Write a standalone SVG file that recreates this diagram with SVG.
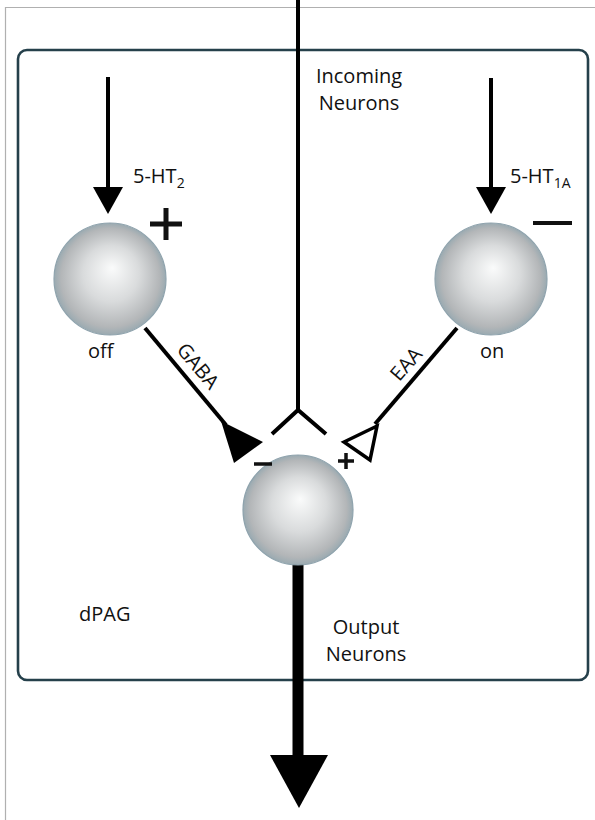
<svg xmlns="http://www.w3.org/2000/svg" width="595" height="820" viewBox="0 0 595 820">
  <defs>
    <radialGradient id="sphere" cx="50%" cy="50%" r="50%" fx="52%" fy="40%">
      <stop offset="0" stop-color="#fafbfb"/>
      <stop offset="0.5" stop-color="#d9dbdc"/>
      <stop offset="0.88" stop-color="#b3b6b8"/>
      <stop offset="1" stop-color="#9aaab1"/>
    </radialGradient>
    <style>
      .lbl { font-family: "Open Sans", "Noto Sans", "Liberation Sans", sans-serif; font-size: 20px; fill: #111; }
      .sub { font-size: 14px; }
      .cell { fill: url(#sphere); stroke: #8fa3ad; stroke-width: 1.2; }
      .axon { stroke: #000; stroke-width: 4; fill: none; stroke-linecap: butt; }
      .sign { stroke: #111; fill: none; }
    </style>
  </defs>

  <rect width="595" height="820" fill="#fff"/>
  <!-- page frame -->
  <path d="M5.5 820 V7.5 H595" fill="none" stroke="#b0b0b0" stroke-width="1.2"/>

  <!-- dPAG region -->
  <g id="dpag">
    <rect x="18" y="50" width="570" height="630" rx="9" ry="9" fill="none" stroke="#25404b" stroke-width="2.6"/>
    <text class="lbl" x="79" y="621">dPAG</text>
  </g>

  <g id="connectors">
    <!-- incoming fibre and its two branches -->
    <line class="axon" x1="298" y1="0" x2="298" y2="411"/>
    <path class="axon" d="M272 434 L298 410 L326 434"/>
    <!-- serotonergic inputs -->
    <line class="axon" x1="108" y1="77" x2="108" y2="190"/>
    <polygon points="93,187 123,187 108,214" fill="#000"/>
    <line class="axon" x1="491" y1="78" x2="491" y2="190"/>
    <polygon points="476,187 506,187 491,214" fill="#000"/>
    <!-- GABA projection with inhibitory terminal -->
    <line class="axon" x1="145" y1="328" x2="226" y2="425"/>
    <polygon points="221,421 263,442 234,463" fill="#000"/>
    <!-- EAA projection with excitatory terminal -->
    <line class="axon" x1="457" y1="328" x2="375" y2="424"/>
    <polygon points="344,442 377,426 370,460" fill="#fff" stroke="#000" stroke-width="3.5" stroke-linejoin="miter"/>
    <!-- output -->
    <line x1="298" y1="560" x2="298" y2="758" stroke="#000" stroke-width="11"/>
    <polygon points="270,755 328,755 299,808" fill="#000"/>
  </g>

  <g id="incoming">
    <text class="lbl" x="359" y="83" text-anchor="middle">Incoming</text>
    <text class="lbl" x="359" y="110" text-anchor="middle">Neurons</text>
  </g>

  <g id="off-cell">
    <circle class="cell" cx="110" cy="279" r="56"/>
    <text class="lbl" x="133" y="183">5-HT<tspan class="sub" dy="5">2</tspan></text>
    <path class="sign" d="M150 224 H182 M166 208 V240" stroke-width="5"/>
    <text class="lbl" x="88" y="358">off</text>
    <text class="lbl" transform="translate(198 366) rotate(50)" text-anchor="middle" dy="7">GABA</text>
  </g>

  <g id="on-cell">
    <circle class="cell" cx="491" cy="279" r="56"/>
    <text class="lbl" x="510" y="183">5-HT<tspan class="sub" dy="5">1A</tspan></text>
    <line class="sign" x1="533" y1="223" x2="572" y2="223" stroke-width="4"/>
    <text class="lbl" x="480" y="358">on</text>
    <text class="lbl" transform="translate(406 364) rotate(-49)" text-anchor="middle" dy="7">EAA</text>
  </g>

  <g id="output-cell">
    <circle class="cell" cx="298" cy="510" r="55"/>
    <line class="sign" x1="254" y1="464" x2="272" y2="464" stroke-width="3.5"/>
    <path class="sign" d="M338 461 H354 M346 453 V469" stroke-width="3.5"/>
    <text class="lbl" x="366" y="634" text-anchor="middle">Output</text>
    <text class="lbl" x="366" y="661" text-anchor="middle">Neurons</text>
  </g>
</svg>
